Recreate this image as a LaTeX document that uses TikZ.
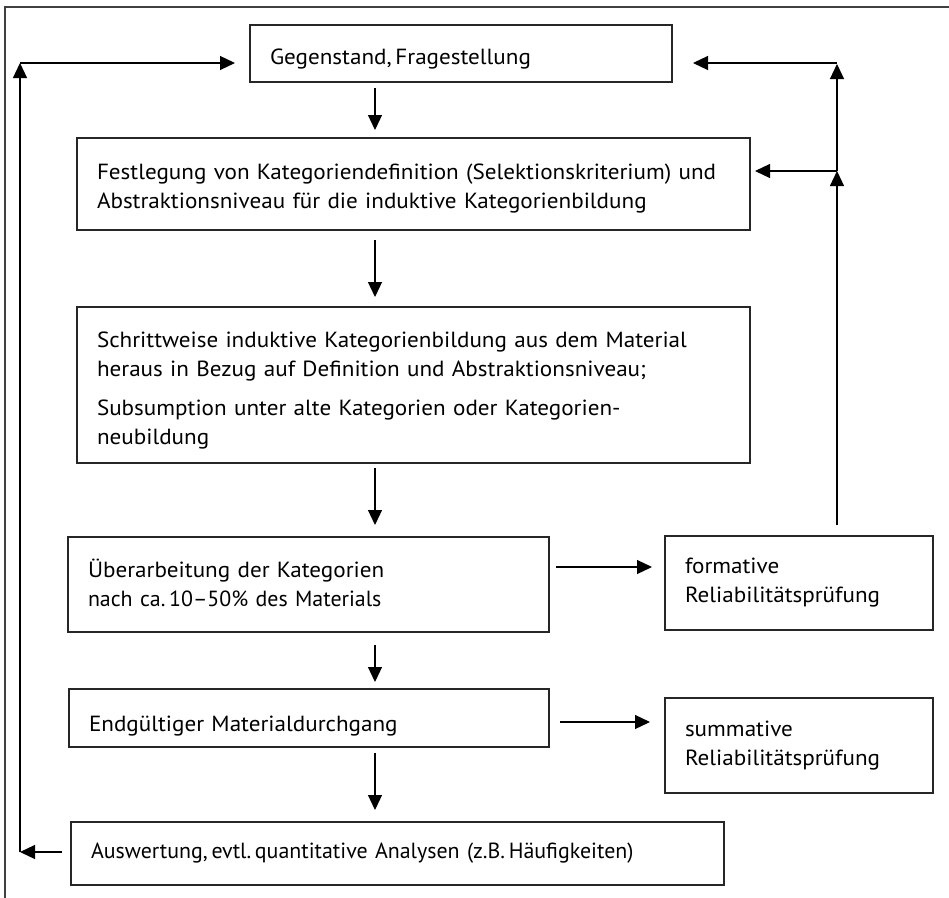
\documentclass[tikz,border=0pt]{standalone}
\usepackage{fontspec}
\setmainfont{PT Sans}[FakeStretch=1.055]
\newfontfamily\narrowfont{PT Sans}
\usetikzlibrary{arrows.meta}
\frenchspacing
\newcommand\topstrut[1]{\rule{0pt}{#1bp}}
\tikzset{
  box/.style={draw=black!85, line width=1.2bp, rectangle, anchor=north west,
    inner xsep=20bp, inner ysep=0bp, outer sep=0pt, align=left,
    font=\fontsize{22}{29}\selectfont},
  arr/.style={draw=black, line width=1.2bp, -{Triangle[length=15bp,width=14bp]}},
  ln/.style={draw=black!75, line width=1.2bp}
}
\begin{document}
\begin{tikzpicture}[x=1bp,y=-1bp]
\useasboundingbox (0,0) rectangle (949,898);
\draw[ln] (949,7) -- (5,7) -- (5,898);

\node[box, minimum width=422bp, minimum height=57bp, text width=382bp] (g) at (250,25)
  {\topstrut{26}Gegenstand,\,Fragestellung};
\node[box, minimum width=673bp, minimum height=92bp, text width=633bp] (f) at (77,138)
  {\topstrut{25}\mbox{Festlegung von Kategoriendefinition (Selektionskriterium) und}\\Abstraktionsniveau für die induktive Kategorienbildung};
\node[box, line width=2bp, minimum width=673bp, minimum height=156bp, text width=633bp] (s) at (77,307)
  {\topstrut{26}\mbox{Schrittweise induktive Kategorienbildung aus dem Material}\\\mbox{heraus in Bezug auf Definition und Abstraktionsniveau;}\\[10bp]\mbox{Subsumption unter alte Kategorien oder Kategorien-}\\neubildung};
\node[box, minimum width=481bp, minimum height=95bp, text width=441bp] (u) at (68,537)
  {Überarbeitung der Kategorien\\{\narrowfont nach ca.\,10–50\% des Materials}\rule[-4bp]{0pt}{0pt}};
\node[box, minimum width=268bp, minimum height=94bp, text width=228bp] (fr) at (665,536)
  {formative\\Reliabilitätsprüfung};
\node[box, minimum width=480bp, minimum height=58bp, text width=440bp] (e) at (69,689)
  {\topstrut{31}Endgültiger Materialdurchgang};
\node[box, minimum width=268bp, minimum height=95bp, text width=228bp] (sr) at (665,698)
  {summative\\Reliabilitätsprüfung};
\node[box, minimum width=653bp, minimum height=63bp, text width=613bp] (a) at (71,822)
  {\mbox{\narrowfont Auswertung,\,evtl.\,quantitative Analysen (z.B.\,Häufigkeiten)}};

\coordinate (col) at (375,0);
\draw[arr, shorten <=6bp, shorten >=8bp] (g.south -| col) -- (f.north -| col);
\draw[arr, shorten <=10bp, shorten >=10bp] (f.south -| col) -- (s.north -| col);
\draw[arr, shorten <=5bp, shorten >=12bp] (s.south -| col) -- (u.north -| col);
\draw[arr, shorten <=13bp, shorten >=7bp] (u.south -| col) -- (e.north -| col);
\draw[arr, shorten <=6bp, shorten >=12bp] (e.south -| col) -- (a.north -| col);

\coordinate (h1) at (0,567);
\coordinate (h2) at (0,722);
\draw[arr, shorten <=7bp, shorten >=13bp] (u.east |- h1) -- (fr.west |- h1);
\draw[arr, shorten <=11bp, shorten >=15bp] (e.east |- h2) -- (sr.west |- h2);

\coordinate (r1) at (837,171);
\coordinate (r2) at (837,63);
\draw[arr, shorten <=11bp] (fr.north -| r1) -- (r1);
\draw[arr, shorten >=5bp] (r1) -- (f.east |- r1);
\draw[arr, shorten >=1bp] (r1) -- (r2);
\draw[arr, shorten >=21bp] (r2) -- (g.east |- r2);

\coordinate (l1) at (20,852);
\coordinate (l2) at (20,63);
\draw[arr, shorten <=9bp] (a.west |- l1) -- (l1);
\draw[arr] (l1) -- (l2);
\draw[arr, shorten >=15bp] (l2) -- (g.west |- l2);
\end{tikzpicture}
\end{document}
